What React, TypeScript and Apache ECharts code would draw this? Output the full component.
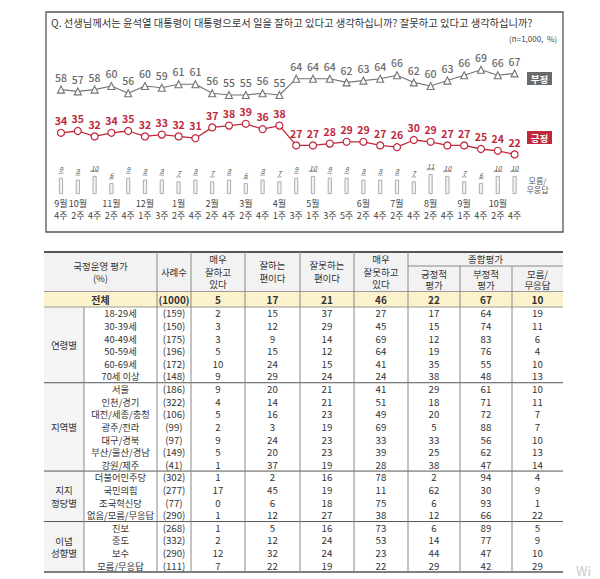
import React, { useEffect, useRef } from "react";
import * as echarts from "echarts";

// ---------- data: trend chart ----------
const weeks = ["9월 4주","10월 2주","10월 4주","11월 2주","11월 4주","12월 1주","12월 3주","1월 2주","1월 4주","2월 2주","2월 4주","3월 2주","3월 4주","4월 1주","4월 3주","5월 1주","5월 3주","5월 5주","6월 2주","6월 4주","7월 2주","7월 4주","8월 2주","8월 4주","9월 1주","9월 4주","10월 2주","10월 4주"];
const negValues = [58,57,58,60,56,60,59,61,61,56,55,55,56,55,64,64,64,62,63,64,66,62,60,63,66,69,66,67];
const posValues = [34,35,32,34,35,32,33,32,31,37,38,39,36,38,27,27,28,29,29,27,26,30,29,27,27,25,24,22];
const dkValues = [9,8,10,6,9,8,8,7,8,7,8,6,8,7,9,10,9,9,8,8,8,7,11,10,7,6,10,10];

// ---------- data: table ----------
const groupNames = ["연령별","지역별","지지\n정당별","이념\n성향별"];
const groupSizes = [6,7,4,4];
const rowLabels = ["18-29세","30-39세","40-49세","50-59세","60-69세","70세 이상","서울","인천/경기","대전/세종/충청","광주/전라","대구/경북","부산/울산/경남","강원/제주","더불어민주당","국민의힘","조국혁신당","없음/모름/무응답","진보","중도","보수","모름/무응답"];
const sampleSizes = [159,150,175,196,172,148,186,322,106,99,97,149,41,302,277,77,290,268,332,290,111];
const veryGood = [2,3,3,5,10,9,9,4,5,2,9,5,1,1,17,0,1,1,2,12,7];
const good = [15,12,9,15,24,29,20,14,16,3,24,20,37,2,45,6,12,5,12,32,22];
const bad = [37,29,14,12,15,24,21,21,23,19,23,23,19,16,19,18,27,16,24,24,19];
const veryBad = [27,45,69,64,41,24,41,51,49,69,33,39,28,78,11,75,38,73,53,23,22];
const posEval = [17,15,12,19,35,38,29,18,20,5,33,25,38,2,62,6,12,6,14,44,29];
const negEval = [64,74,83,76,55,48,61,71,72,88,56,62,47,94,30,93,66,89,77,47,42];
const dkEval = [19,11,6,4,10,13,10,11,7,7,10,13,14,4,9,1,22,5,9,10,29];
const totalLabel = "전체";
const totalRow = [1000,5,17,21,46,22,67,10];
const headerLabels = ["사례수","매우\n잘하고\n있다","잘하는\n편이다","잘못하는\n편이다","매우\n잘못하고\n있다"];
const evalHeaderLabels = ["긍정적\n평가","부정적\n평가","모름/\n무응답"];
const firstHeader = "국정운영 평가\n(%)";
const evalGroupHeader = "종합평가";
const titleText = "Q. 선생님께서는 윤석열 대통령이 대통령으로서 일을 잘하고 있다고 생각하십니까? 잘못하고 있다고 생각하십니까?";
const noteText = "(n=1,000,  %)";

const FONT = '"Noto Sans CJK KR", "Noto Sans", sans-serif';
const RED = "#c0283c";
const GRAY = "#737373";

function txt(x: number, y: number, text: string, o: any = {}) {
  const align = o.align || "center";
  return {
    type: "text",
    silent: true,
    z: 20,
    style: {
      text,
      x,
      y,
      fill: o.color || "#333",
      fontSize: o.size || 9.5,
      fontFamily: FONT,
      fontWeight: o.weight || "normal",
      fontStyle: o.style || "normal",
      align,
      verticalAlign: "middle",
      textAlign: align,
      textVerticalAlign: "middle",
      lineHeight: o.lh || 12,
    },
  };
}
function ln(x1: number, y1: number, x2: number, y2: number, color: string, w: number) {
  return { type: "line", silent: true, z: 15, shape: { x1, y1, x2, y2 }, style: { stroke: color, lineWidth: w } };
}
function box(x: number, y: number, w: number, h: number, fill: string, z = 5) {
  return { type: "rect", silent: true, z, shape: { x, y, width: w, height: h }, style: { fill } };
}

function buildTable() {
  const els: any[] = [];
  const colX = [44, 84, 157, 191, 245, 300, 354, 408, 460, 512, 563];
  const top = 252;
  const evalSplit = 266;
  const headBottom = 291.5;
  const totalBottom = 307;
  const rowH = 12.62;
  const bottom = totalBottom + rowH * rowLabels.length;
  const center = (i: number) => (colX[i] + colX[i + 1]) / 2;
  const rowY = (i: number) => totalBottom + rowH * (i + 0.5);

  // backgrounds
  els.push(box(colX[0], top, colX[10] - colX[0], headBottom - top, "#f2f2f2"));
  els.push(box(colX[0], headBottom, colX[10] - colX[0], totalBottom - headBottom, "#fcf2cc"));
  els.push(box(colX[0], totalBottom, colX[1] - colX[0], bottom - totalBottom, "#f4f4f4"));

  // header texts
  els.push(txt((colX[0] + colX[2]) / 2, 272, firstHeader, { lh: 12 }));
  headerLabels.forEach((h, i) => {
    els.push(txt(center(i + 2), 271.5, h, { lh: 12.6 }));
  });
  els.push(txt((colX[7] + colX[10]) / 2, 258.5, evalGroupHeader, { lh: 10 }));
  evalHeaderLabels.forEach((h, i) => {
    els.push(txt(center(i + 7), 279.3, h, { lh: 11 }));
  });

  // total row
  els.push(txt((colX[0] + colX[2]) / 2, 299.5, totalLabel, { weight: "bold", size: 10, lh: 11 }));
  totalRow.forEach((v, i) => {
    els.push(txt(center(i + 2), 299.5, i === 0 ? `(${v})` : String(v), { weight: "bold", size: 10, lh: 11 }));
  });

  // data rows
  const cols = [veryGood, good, bad, veryBad, posEval, negEval, dkEval];
  rowLabels.forEach((lab, r) => {
    const y = rowY(r);
    els.push(txt(120.5, y, lab, { size: 9.3, lh: 11 }));
    els.push(txt(center(2), y, `(${sampleSizes[r]})`, { size: 9.7, lh: 11 }));
    cols.forEach((arr, c) => {
      els.push(txt(center(c + 3), y, String(arr[r]), { size: 9.7, lh: 11 }));
    });
  });

  // group labels + separators
  let start = 0;
  groupNames.forEach((g, gi) => {
    const end = start + groupSizes[gi];
    const y0 = totalBottom + rowH * start;
    const y1 = totalBottom + rowH * end;
    els.push(txt(center(0), (y0 + y1) / 2, g, { lh: 12.5 }));
    if (gi < groupNames.length - 1) els.push(ln(colX[0], y1, colX[10], y1, "#555", 1));
    start = end;
  });

  // horizontal lines
  els.push(ln(colX[0], top, colX[10], top, "#555", 2));
  els.push(ln(colX[7], evalSplit, colX[10], evalSplit, "#888", 1));
  els.push(ln(colX[0], headBottom, colX[10], headBottom, "#999", 1));
  els.push(ln(colX[0], totalBottom, colX[10], totalBottom, "#999", 1));
  els.push(ln(colX[0], bottom, colX[10], bottom, "#555", 1.5));

  // vertical lines
  els.push(ln(colX[1], totalBottom, colX[1], bottom, "#888", 1));
  [2, 3, 4, 5, 6, 7].forEach((i) => els.push(ln(colX[i], top, colX[i], bottom, "#888", 1)));
  [8, 9].forEach((i) => els.push(ln(colX[i], evalSplit, colX[i], bottom, "#888", 1)));
  return els;
}

export default function App() {
  const ref = useRef<HTMLDivElement>(null);
  useEffect(() => {
    if (!ref.current) return;
    const chart = echarts.init(ref.current, null, { renderer: "svg" });
    const option: any = {
      animation: false,
      backgroundColor: "#ffffff",
      textStyle: { fontFamily: FONT },
      grid: { left: 52.6, width: 470.4, top: 14, height: 180 },
      xAxis: {
        type: "category",
        data: weeks,
        boundaryGap: true,
        axisLine: { show: false },
        axisTick: { show: false },
        axisLabel: {
          interval: 0,
          margin: 4,
          fontSize: 9,
          lineHeight: 11.5,
          color: "#444",
          fontFamily: FONT,
          formatter: (val: string, idx: number) => {
            const [m, w] = val.split(" ");
            const prev = idx > 0 ? weeks[idx - 1].split(" ")[0] : "";
            return (m !== prev ? m : "") + "\n" + w;
          },
        },
      },
      yAxis: { type: "value", min: 0, max: 100, show: false, splitLine: { show: false } },
      series: [
        {
          type: "bar",
          name: "모름/무응답",
          data: dkValues,
          barWidth: 4,
          itemStyle: { color: "#f3f3f3", borderColor: "#9a9a9a", borderWidth: 0.8 },
          z: 1,
        },
        {
          type: "custom",
          name: "모름 라벨",
          data: dkValues.map((v, i) => [i, v]),
          encode: { x: 0, y: 1 },
          z: 3,
          renderItem: (params: any, api: any) => {
            const v = api.value(1);
            const p = api.coord([api.value(0), v]);
            const s = String(v);
            const w = s.length * 3.9 + 1;
            return {
              type: "group",
              children: [
                {
                  type: "text",
                  style: {
                    text: s,
                    x: p[0],
                    y: p[1] - 8.5,
                    fill: "#555",
                    fontSize: 7,
                    fontStyle: "italic",
                    fontFamily: FONT,
                    align: "center",
                    verticalAlign: "middle",
                    textAlign: "center",
                    textVerticalAlign: "middle",
                  },
                },
                {
                  type: "line",
                  shape: { x1: p[0] - w / 2, y1: p[1] - 4.5, x2: p[0] + w / 2, y2: p[1] - 4.5 },
                  style: { stroke: "#666", lineWidth: 0.6 },
                },
              ],
            };
          },
        },
        {
          type: "line",
          name: "부정",
          data: negValues,
          symbol: "triangle",
          symbolSize: 7,
          lineStyle: { color: GRAY, width: 1.1 },
          itemStyle: { color: "#fff", borderColor: GRAY, borderWidth: 1.1 },
          label: { show: true, position: "top", distance: 3, color: "#6a6a6a", fontSize: 10.5, fontFamily: FONT, fontWeight: 500 },
          z: 4,
        },
        {
          type: "line",
          name: "긍정",
          data: posValues,
          symbol: "circle",
          symbolSize: 7,
          lineStyle: { color: RED, width: 1.3 },
          itemStyle: { color: "#fff", borderColor: RED, borderWidth: 1.2 },
          label: { show: true, position: "top", distance: 3, color: RED, fontSize: 10.5, fontFamily: FONT, fontWeight: "bold" },
          z: 4,
        },
      ],
      graphic: [
        { type: "rect", silent: true, z: 1, shape: { x: 46, y: 12, width: 517, height: 220 }, style: { fill: "none", stroke: "#555", lineWidth: 1.3 } },
        txt(51, 22.5, titleText, { align: "left", size: 10.3, color: "#333" }),
        txt(557, 38.5, noteText, { align: "right", size: 8, color: "#444" }),
        box(527, 72, 25, 13, "#6b6b6b", 10),
        txt(539.5, 78.5, "부정", { color: "#fff", weight: "bold", size: 9.5 }),
        box(527, 131, 25, 13, RED, 10),
        txt(539.5, 137.5, "긍정", { color: "#fff", weight: "bold", size: 9.5 }),
        txt(537.5, 185, "모름/\n무응답", { color: "#555", size: 8, lh: 9.5 }),
        ...buildTable(),
        txt(576, 570, "Wi", { align: "left", size: 13, color: "#c8c8c8" }),
      ],
    };
    chart.setOption(option);
    return () => chart.dispose();
  }, []);
  return (
    <div
      ref={ref}
      style={{ position: "absolute", left: 0, top: 0, width: 600, height: 579 }}
    />
  );
}
